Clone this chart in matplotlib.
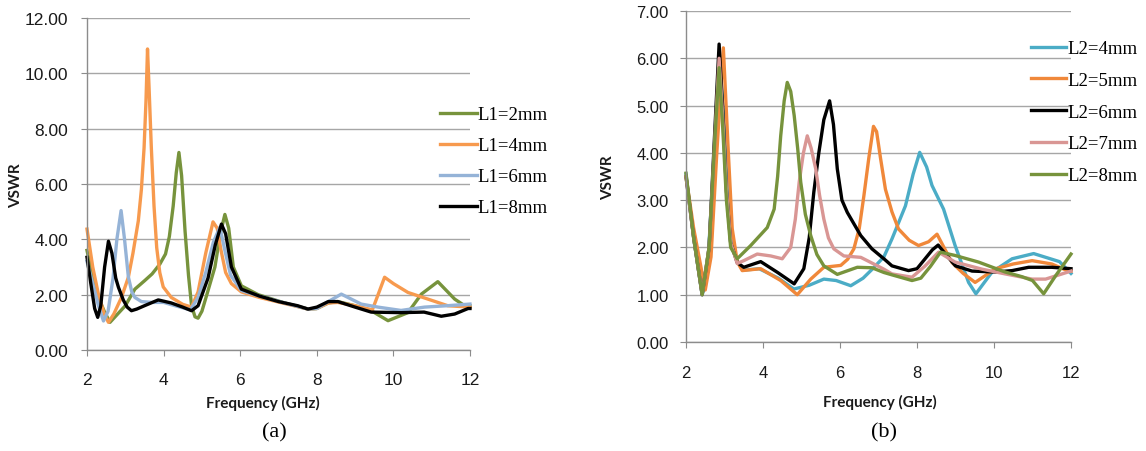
import matplotlib
matplotlib.use("Agg")
import matplotlib.pyplot as plt
from matplotlib.ticker import FormatStrFormatter

# ---------------- data: panel (a) ----------------
l1_2mm_f = [2.0, 2.15, 2.3, 2.45, 2.6, 2.8, 3.0, 3.25, 3.5, 3.7, 3.9, 4.05, 4.15, 4.25, 4.33, 4.4, 4.47,
            4.56, 4.65, 4.73, 4.82, 4.9, 5.0, 5.15, 5.34, 5.48, 5.6, 5.7, 5.82, 6.03, 6.47, 7.16, 7.77,
            8.0, 8.3, 8.55, 9.0, 9.42, 9.86, 10.38, 10.73, 11.16, 11.6, 11.86, 12.0]
l1_2mm_v = [3.6, 2.6, 1.9, 1.4, 1.0, 1.3, 1.6, 2.2, 2.5, 2.75, 3.1, 3.47, 4.1, 5.2, 6.4, 7.14, 6.3,
            4.3, 2.7, 1.6, 1.2, 1.15, 1.4, 2.1, 3.0, 4.2, 4.9, 4.4, 3.0, 2.32, 2.0, 1.7, 1.48,
            1.5, 1.7, 1.75, 1.6, 1.42, 1.06, 1.35, 2.02, 2.47, 1.84, 1.6, 1.6]

l1_4mm_f = [2.0, 2.15, 2.3, 2.45, 2.56, 2.7, 2.9, 3.08, 3.2, 3.34, 3.42, 3.49, 3.54, 3.58, 3.62, 3.68,
            3.75, 3.82, 3.9, 3.99, 4.2, 4.5, 4.73, 4.9, 5.1, 5.29, 5.4, 5.5, 5.62, 5.77, 6.03, 6.5,
            7.16, 7.77, 8.0, 8.3, 8.55, 9.0, 9.45, 9.6, 9.77, 10.0, 10.38, 10.9, 11.42, 12.0]
l1_4mm_v = [4.37, 3.0, 2.0, 1.3, 1.0, 1.3, 1.9, 2.63, 3.5, 4.67, 5.8, 7.3, 9.0, 10.88, 9.5, 7.3,
            5.2, 3.7, 2.8, 2.28, 1.9, 1.65, 1.55, 2.1, 3.5, 4.63, 4.4, 3.6, 2.8, 2.4, 2.1, 1.9,
            1.68, 1.48, 1.5, 1.7, 1.72, 1.6, 1.45, 2.0, 2.63, 2.4, 2.08, 1.84, 1.6, 1.55]

l1_6mm_f = [2.0, 2.15, 2.3, 2.43, 2.55, 2.68, 2.78, 2.89, 2.98, 3.08, 3.17, 3.25, 3.42, 3.7, 4.0, 4.3,
            4.7, 4.9, 5.1, 5.3, 5.47, 5.6, 5.75, 6.03, 6.5, 7.16, 7.77, 8.0, 8.3, 8.64, 9.16, 9.6,
            10.2, 10.81, 11.4, 12.0]
l1_6mm_v = [3.2, 2.4, 1.6, 1.05, 1.4, 2.6, 4.0, 5.04, 4.0, 2.64, 2.1, 1.9, 1.75, 1.72, 1.72, 1.6,
            1.45, 1.9, 2.8, 3.9, 4.44, 3.6, 2.7, 2.15, 1.95, 1.7, 1.48, 1.5, 1.75, 2.02, 1.66, 1.55,
            1.43, 1.55, 1.6, 1.66]

l1_8mm_f = [2.0, 2.1, 2.2, 2.28, 2.36, 2.46, 2.56, 2.65, 2.75, 2.82, 2.95, 3.05, 3.16, 3.3, 3.5, 3.86,
            4.2, 4.5, 4.73, 4.9, 5.16, 5.35, 5.51, 5.62, 5.77, 6.03, 6.5, 7.0, 7.5, 7.77, 8.0, 8.3,
            8.55, 9.0, 9.42, 10.2, 10.8, 11.25, 11.6, 11.95, 12.0]
l1_8mm_v = [3.35, 2.4, 1.5, 1.18, 1.6, 3.0, 3.93, 3.5, 2.6, 2.27, 1.8, 1.55, 1.42, 1.48, 1.6, 1.81,
            1.7, 1.55, 1.42, 1.6, 2.6, 3.8, 4.55, 4.2, 3.0, 2.2, 1.95, 1.75, 1.6, 1.48, 1.55, 1.75,
            1.75, 1.55, 1.37, 1.35, 1.37, 1.22, 1.3, 1.5, 1.5]

# ---------------- data: panel (b) ----------------
l2_4mm_f = [2.0, 2.2, 2.42, 2.55, 2.7, 2.86, 3.0, 3.16, 3.33, 3.5, 3.9, 4.4, 4.8, 5.2, 5.58, 5.9, 6.28,
            6.6, 6.85, 7.14, 7.35, 7.7, 7.9, 8.07, 8.25, 8.39, 8.69, 8.99, 9.34, 9.53, 9.95, 10.47,
            11.03, 11.7, 12.0]
l2_4mm_v = [3.55, 2.2, 1.0, 1.4, 3.5, 6.0, 4.5, 2.1, 1.7, 1.52, 1.55, 1.35, 1.12, 1.2, 1.33, 1.3, 1.19,
            1.35, 1.55, 1.8, 2.18, 2.88, 3.55, 4.01, 3.7, 3.31, 2.81, 2.04, 1.26, 1.02, 1.48, 1.76,
            1.87, 1.7, 1.45]

l2_5mm_f = [2.0, 2.2, 2.5, 2.65, 2.8, 2.97, 3.1, 3.2, 3.33, 3.46, 3.94, 4.46, 4.89, 5.24, 5.58, 6.02,
            6.2, 6.36, 6.5, 6.62, 6.75, 6.87, 6.95, 7.05, 7.18, 7.35, 7.52, 7.8, 8.04, 8.3, 8.52, 8.7,
            8.91, 9.2, 9.51, 10.04, 10.5, 10.99, 11.5, 11.93, 12.0]
l2_5mm_v = [3.5, 2.4, 1.1, 1.8, 4.0, 6.22, 4.0, 2.4, 1.7, 1.51, 1.55, 1.3, 1.0, 1.33, 1.58, 1.62,
            1.75, 1.97, 2.4, 3.09, 3.9, 4.56, 4.45, 3.9, 3.23, 2.75, 2.39, 2.15, 2.04, 2.12, 2.28, 2.0,
            1.68, 1.45, 1.26, 1.55, 1.65, 1.72, 1.65, 1.5, 1.5]

l2_6mm_f = [2.0, 2.2, 2.42, 2.6, 2.75, 2.86, 2.95, 3.05, 3.16, 3.33, 3.5, 3.94, 4.38, 4.81, 5.06, 5.2,
            5.32, 5.45, 5.58, 5.73, 5.83, 5.93, 6.05, 6.19, 6.54, 6.83, 7.14, 7.35, 7.78, 8.0, 8.2,
            8.4, 8.55, 8.75, 9.0, 9.43, 10.04, 10.47, 10.9, 11.5, 12.0]
l2_6mm_v = [3.5, 2.2, 1.0, 2.0, 4.5, 6.3, 5.0, 3.2, 2.1, 1.68, 1.58, 1.7, 1.47, 1.23, 1.55, 2.2,
            3.17, 4.0, 4.7, 5.1, 4.6, 3.66, 3.0, 2.74, 2.25, 1.97, 1.76, 1.61, 1.51, 1.55, 1.75,
            1.95, 2.05, 1.85, 1.61, 1.5, 1.48, 1.51, 1.58, 1.58, 1.55]

l2_7mm_f = [2.0, 2.2, 2.42, 2.6, 2.75, 2.86, 2.95, 3.05, 3.16, 3.33, 3.5, 3.85, 4.2, 4.5, 4.72, 4.84,
            4.94, 5.05, 5.15, 5.25, 5.37, 5.47, 5.58, 5.7, 5.84, 6.1, 6.54, 6.83, 7.14, 7.35, 7.87,
            8.2, 8.56, 8.99, 9.69, 10.29, 10.99, 11.34, 12.0]
l2_7mm_v = [3.5, 2.2, 1.0, 2.0, 4.3, 6.0, 4.8, 3.2, 2.1, 1.66, 1.72, 1.86, 1.82, 1.76, 2.0, 2.6,
            3.38, 4.0, 4.36, 4.1, 3.66, 3.1, 2.6, 2.2, 1.97, 1.82, 1.79, 1.67, 1.54, 1.44, 1.37,
            1.6, 1.9, 1.69, 1.54, 1.44, 1.33, 1.33, 1.5]

l2_8mm_f = [2.0, 2.2, 2.42, 2.6, 2.75, 2.86, 2.95, 3.05, 3.16, 3.33, 3.68, 4.11, 4.29, 4.38, 4.46, 4.55,
            4.63, 4.72, 4.81, 4.9, 4.98, 5.1, 5.24, 5.4, 5.58, 5.93, 6.45, 6.83, 7.14, 7.35, 7.87, 8.1,
            8.35, 8.61, 8.99, 9.6, 10.29, 10.73, 11.0, 11.29, 11.6, 12.0]
l2_8mm_v = [3.57, 2.2, 1.0, 2.0, 4.3, 5.8, 4.6, 3.0, 2.0, 1.76, 2.04, 2.42, 2.81, 3.5, 4.36, 5.1,
            5.49, 5.3, 4.79, 4.1, 3.38, 2.7, 2.25, 1.85, 1.61, 1.43, 1.58, 1.57, 1.47, 1.42, 1.3, 1.35,
            1.6, 1.9, 1.83, 1.69, 1.48, 1.38, 1.3, 1.02, 1.4, 1.86]

labels_a = ["L1=2mm", "L1=4mm", "L1=6mm", "L1=8mm"]
colors_a = ["#77933C", "#F79A4E", "#95B3D7", "#000000"]
series_a = [(l1_2mm_f, l1_2mm_v), (l1_4mm_f, l1_4mm_v), (l1_6mm_f, l1_6mm_v), (l1_8mm_f, l1_8mm_v)]

labels_b = ["L2=4mm", "L2=5mm", "L2=6mm", "L2=7mm", "L2=8mm"]
colors_b = ["#4BACC6", "#F0883A", "#000000", "#D99694", "#77933C"]
series_b = [(l2_4mm_f, l2_4mm_v), (l2_5mm_f, l2_5mm_v), (l2_6mm_f, l2_6mm_v),
            (l2_7mm_f, l2_7mm_v), (l2_8mm_f, l2_8mm_v)]

x_ticks = [2, 4, 6, 8, 10, 12]
y_ticks_a = [0, 2, 4, 6, 8, 10, 12]
y_ticks_b = [0, 1, 2, 3, 4, 5, 6, 7]

W, H = 1146, 452
fig = plt.figure(figsize=(W / 100, H / 100), dpi=100)

ax1 = fig.add_axes([87 / W, 1 - 351 / H, 383 / W, 332 / H])
ax2 = fig.add_axes([686 / W, 1 - 343 / H, 385 / W, 331 / H])

GRID = "#A6A6A6"
SPINE = "#8C8C8C"
tick_font = "Liberation Sans"
label_font = ["Lato", "DejaVu Sans"]
serif = ["Liberation Serif", "DejaVu Serif"]


def style(ax, yticks, ymax, fs, ypad, xpad):
    ax.set_xlim(2, 12)
    ax.set_ylim(0, ymax)
    ax.set_xticks(x_ticks)
    ax.set_yticks(yticks)
    ax.yaxis.set_major_formatter(FormatStrFormatter("%.2f"))
    ax.yaxis.grid(True, color=GRID, lw=1.0)
    ax.set_axisbelow(True)
    for s in ("top", "right"):
        ax.spines[s].set_visible(False)
    for s in ("left", "bottom"):
        ax.spines[s].set_color(SPINE)
        ax.spines[s].set_linewidth(1.0)
    ax.tick_params(axis="y", direction="out", length=4.5, color=SPINE, pad=ypad,
                   labelsize=fs, labelcolor="#1a1a1a")
    ax.tick_params(axis="x", direction="out", length=4.5, color=SPINE, pad=xpad,
                   labelsize=fs, labelcolor="#1a1a1a")
    for t in ax.get_xticklabels() + ax.get_yticklabels():
        t.set_fontfamily(tick_font)


style(ax1, y_ticks_a, 12, 12.5, 9, 11)
style(ax2, y_ticks_b, 7, 12, 8, 12)

for (f, v), c, lab in zip(series_a, colors_a, labels_a):
    ax1.plot(f, v, color=c, lw=2.4, label=lab, solid_joinstyle="round", clip_on=False)
for (f, v), c, lab in zip(series_b, colors_b, labels_b):
    ax2.plot(f, v, color=c, lw=2.4, label=lab, solid_joinstyle="round", clip_on=False)

leg_kw = dict(frameon=False, handletextpad=0.05, borderpad=0, borderaxespad=0,
              bbox_transform=fig.transFigure, loc="upper left",
              prop={"family": serif, "size": 13.5})
ax1.legend(bbox_to_anchor=(440 / W, 1 - 107 / H), handlelength=1.97, labelspacing=0.74, **leg_kw)
ax2.legend(bbox_to_anchor=(1031 / W, 1 - 41 / H), handlelength=1.87, labelspacing=0.78, **leg_kw)

lab_kw = dict(family=label_font, weight="bold", size=11, color="#1a1a1a", ha="center", va="center")
fig.text(262.5 / W, 1 - 403 / H, "Frequency (GHz)", **lab_kw)
fig.text(880 / W, 1 - 402 / H, "Frequency (GHz)", **lab_kw)
fig.text(16.5 / W, 1 - 186 / H, "VSWR", rotation=90, **lab_kw)
fig.text(608 / W, 1 - 178 / H, "VSWR", rotation=90, **lab_kw)

fig.text(274 / W, 1 - 433 / H, "(a)", family=serif, size=16, ha="center", va="center")
fig.text(884 / W, 1 - 433 / H, "(b)", family=serif, size=16, ha="center", va="center")

fig.savefig("out.png", dpi=100)
